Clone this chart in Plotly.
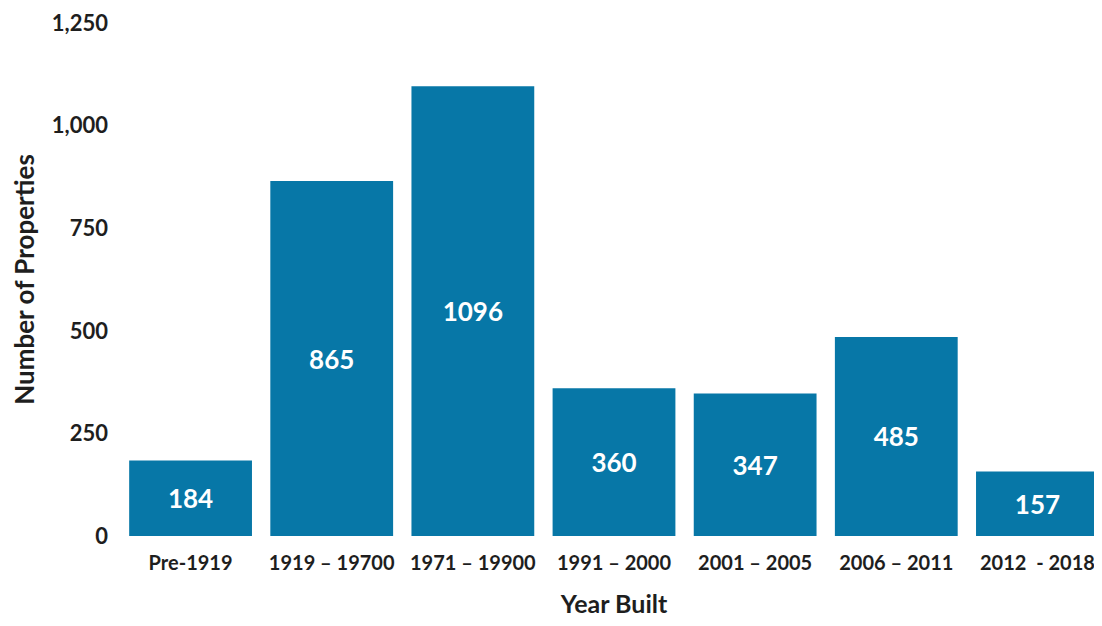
import plotly.graph_objects as go

categories = ["Pre-1919", "1919 – 19700", "1971 – 19900", "1991 – 2000", "2001 – 2005", "2006 – 2011", "2012  - 2018"]
values = [184, 865, 1096, 360, 347, 485, 157]
y_ticks = [0, 250, 500, 750, 1000, 1250]

bar_color = "#0777a7"
font_fam = "Lato, 'Open Sans', sans-serif"
txt_color = "#1e1e1e"

fig = go.Figure(go.Bar(
    x=categories, y=values,
    marker=dict(color=bar_color, line=dict(width=0)),
    text=[str(v) for v in values],
    textposition="inside", insidetextanchor="middle",
    textfont=dict(color="white", size=26, family=font_fam, weight="bold"),
    cliponaxis=False,
))

fig.update_layout(
    width=1102, height=626,
    margin=dict(l=112, r=2, t=15, b=98),
    plot_bgcolor="white", paper_bgcolor="white",
    bargap=0.13,
    showlegend=False,
    font=dict(family=font_fam, color=txt_color),
    uniformtext=dict(mode=False),
)
fig.update_xaxes(
    range=[-0.5, 6.5], automargin=False,
    showgrid=False, showline=False, ticks="",
    ticklabelstandoff=13,
    tickfont=dict(size=20, family=font_fam, color=txt_color, weight="bold"),
    title=dict(text="Year Built", font=dict(size=25, family=font_fam, color=txt_color, weight="bold"), standoff=22),
)
fig.update_yaxes(
    range=[0, 1250], tickvals=y_ticks, tickformat=",", automargin=False,
    showgrid=False, zeroline=False, showline=False, ticks="",
    ticklabelstandoff=11,
    tickfont=dict(size=22, family=font_fam, color=txt_color, weight="bold"),
    title=dict(text="Number of Properties", font=dict(size=26, family=font_fam, color=txt_color, weight="bold"), standoff=14),
)

fig.write_html("out.html")
